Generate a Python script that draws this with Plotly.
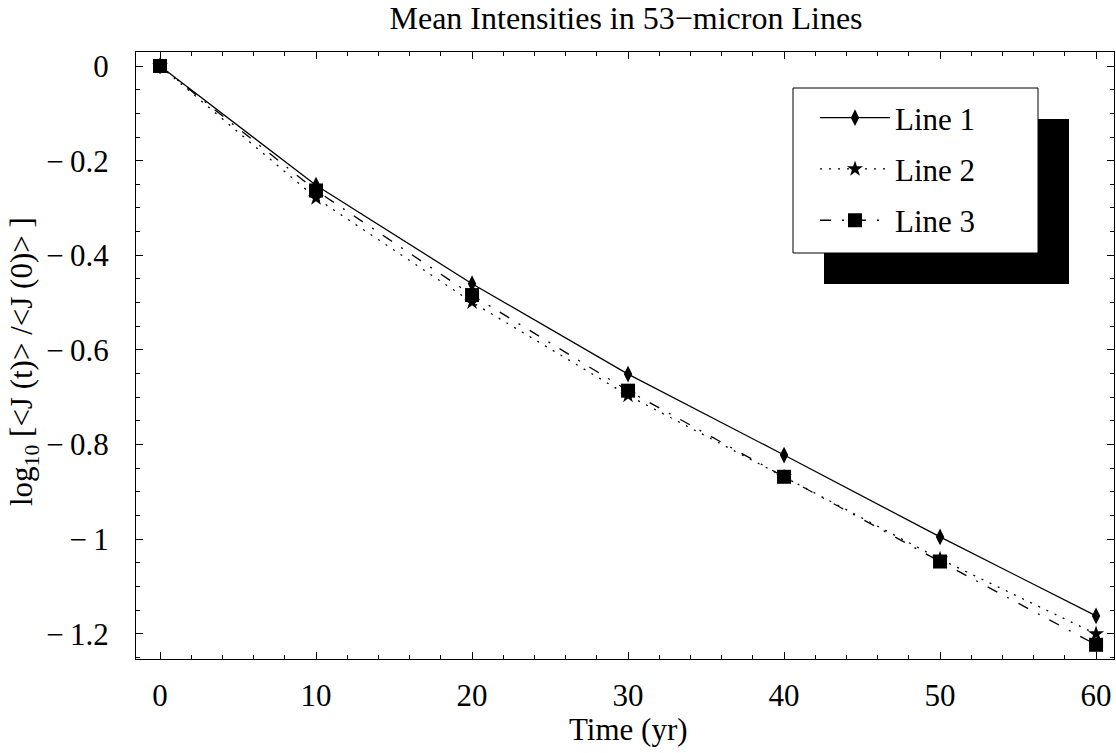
import plotly.graph_objects as go

time_yr = [0, 10, 20, 30, 40, 50, 60]
line1 = [0, -0.252, -0.460, -0.651, -0.822, -0.995, -1.162]
line2 = [0, -0.279, -0.499, -0.696, -0.868, -1.042, -1.200]
line3 = [0, -0.263, -0.484, -0.686, -0.868, -1.047, -1.223]
series_names = ["Line 1", "Line 2", "Line 3"]

x_tickvals = [0, 10, 20, 30, 40, 50, 60]
x_ticktext = ["0", "10", "20", "30", "40", "50", "60"]
y_tickvals = [0, -0.2, -0.4, -0.6, -0.8, -1.0, -1.2]
y_ticktext = ["0", "\u2212\u20090.2", "\u2212\u20090.4", "\u2212\u20090.6",
              "\u2212\u20090.8", "\u2212\u20091", "\u2212\u20091.2"]

FONT = "Liberation Serif"
FS = 31

fig = go.Figure()
styles = [
    dict(dash="solid", symbol="diamond-tall", size=12),
    dict(dash="2px,7px", symbol="star", size=12),
    dict(dash="11px,11px,2px,11px", symbol="square", size=14),
]
for name, ys, st in zip(series_names, [line1, line2, line3], styles):
    fig.add_trace(go.Scatter(
        x=time_yr, y=ys, name=name, mode="lines+markers",
        legendgroup=name,
        line=dict(color="black", width=1.3, dash=st["dash"]),
        marker=dict(color="black", symbol=st["symbol"], size=st["size"], line=dict(width=0)),
    ))

# plot area: left 136, right 1114, top 52, bottom 659
W, H = 1116, 753
L, R, T, B = 136, 1114, 52, 659
pw, ph = R - L, B - T

def px(x):
    return (x - L) / pw

def py(y):
    return (B - y) / ph

axis_common = dict(
    showline=True, linecolor="black", linewidth=1, mirror="ticks",
    ticks="inside", ticklen=7, tickwidth=1, tickcolor="black",
    showgrid=False, zeroline=False, automargin=False,
    tickfont=dict(family=FONT, size=FS, color="black"),
)

fig.update_layout(
    width=W, height=H,
    margin=dict(l=L, r=W - R, t=T, b=H - B),
    paper_bgcolor="white", plot_bgcolor="white",
    font=dict(family=FONT, color="black"),
    title=dict(text="Mean Intensities in 53\u2212micron Lines", x=px(626), xref="paper",
               xanchor="center", y=1 - 18 / H, yanchor="middle",
               font=dict(family=FONT, size=32, color="black")),
    xaxis=dict(range=[-1.54, 61.15], tickvals=x_tickvals, ticktext=x_ticktext,
               minor=dict(dtick=2, ticks="inside", ticklen=4, tickcolor="black"),
               ticklabelstandoff=9, **axis_common),
    yaxis=dict(range=[-1.253, 0.0296], tickvals=y_tickvals, ticktext=y_ticktext,
               minor=dict(dtick=0.05, ticks="inside", ticklen=4, tickcolor="black"),
               ticklabelstandoff=20, **axis_common),
    showlegend=True,
    legend=dict(x=px(815), y=py(91), xanchor="left", yanchor="top",
                bgcolor="rgba(0,0,0,0)", borderwidth=0,
                traceorder="grouped", tracegroupgap=8, itemwidth=70,
                font=dict(family=FONT, size=FS, color="black")),
    shapes=[
        dict(type="rect", xref="paper", yref="paper",
             x0=px(824), x1=px(1069), y0=py(284), y1=py(119),
             fillcolor="black", line=dict(width=0), layer="above"),
        dict(type="rect", xref="paper", yref="paper",
             x0=px(793), x1=px(1038), y0=py(253), y1=py(88),
             fillcolor="white", line=dict(color="black", width=1), layer="above"),
    ],
    annotations=[
        dict(text="Time (yr)", xref="paper", yref="paper", x=px(628), y=py(729),
             xanchor="center", yanchor="middle", showarrow=False,
             font=dict(family=FONT, size=FS, color="black")),
        dict(text="log<sub>10</sub> [&lt;J (t)&gt; /&lt;J (0)&gt; ]", xref="paper", yref="paper",
             x=px(24), y=py(362), xanchor="center", yanchor="middle", showarrow=False,
             textangle=-90, font=dict(family=FONT, size=FS, color="black")),
    ],
)

fig.write_html("out.html", config={"displayModeBar": False},
               post_script="document.body.style.margin='0';document.body.style.overflow='hidden';")
